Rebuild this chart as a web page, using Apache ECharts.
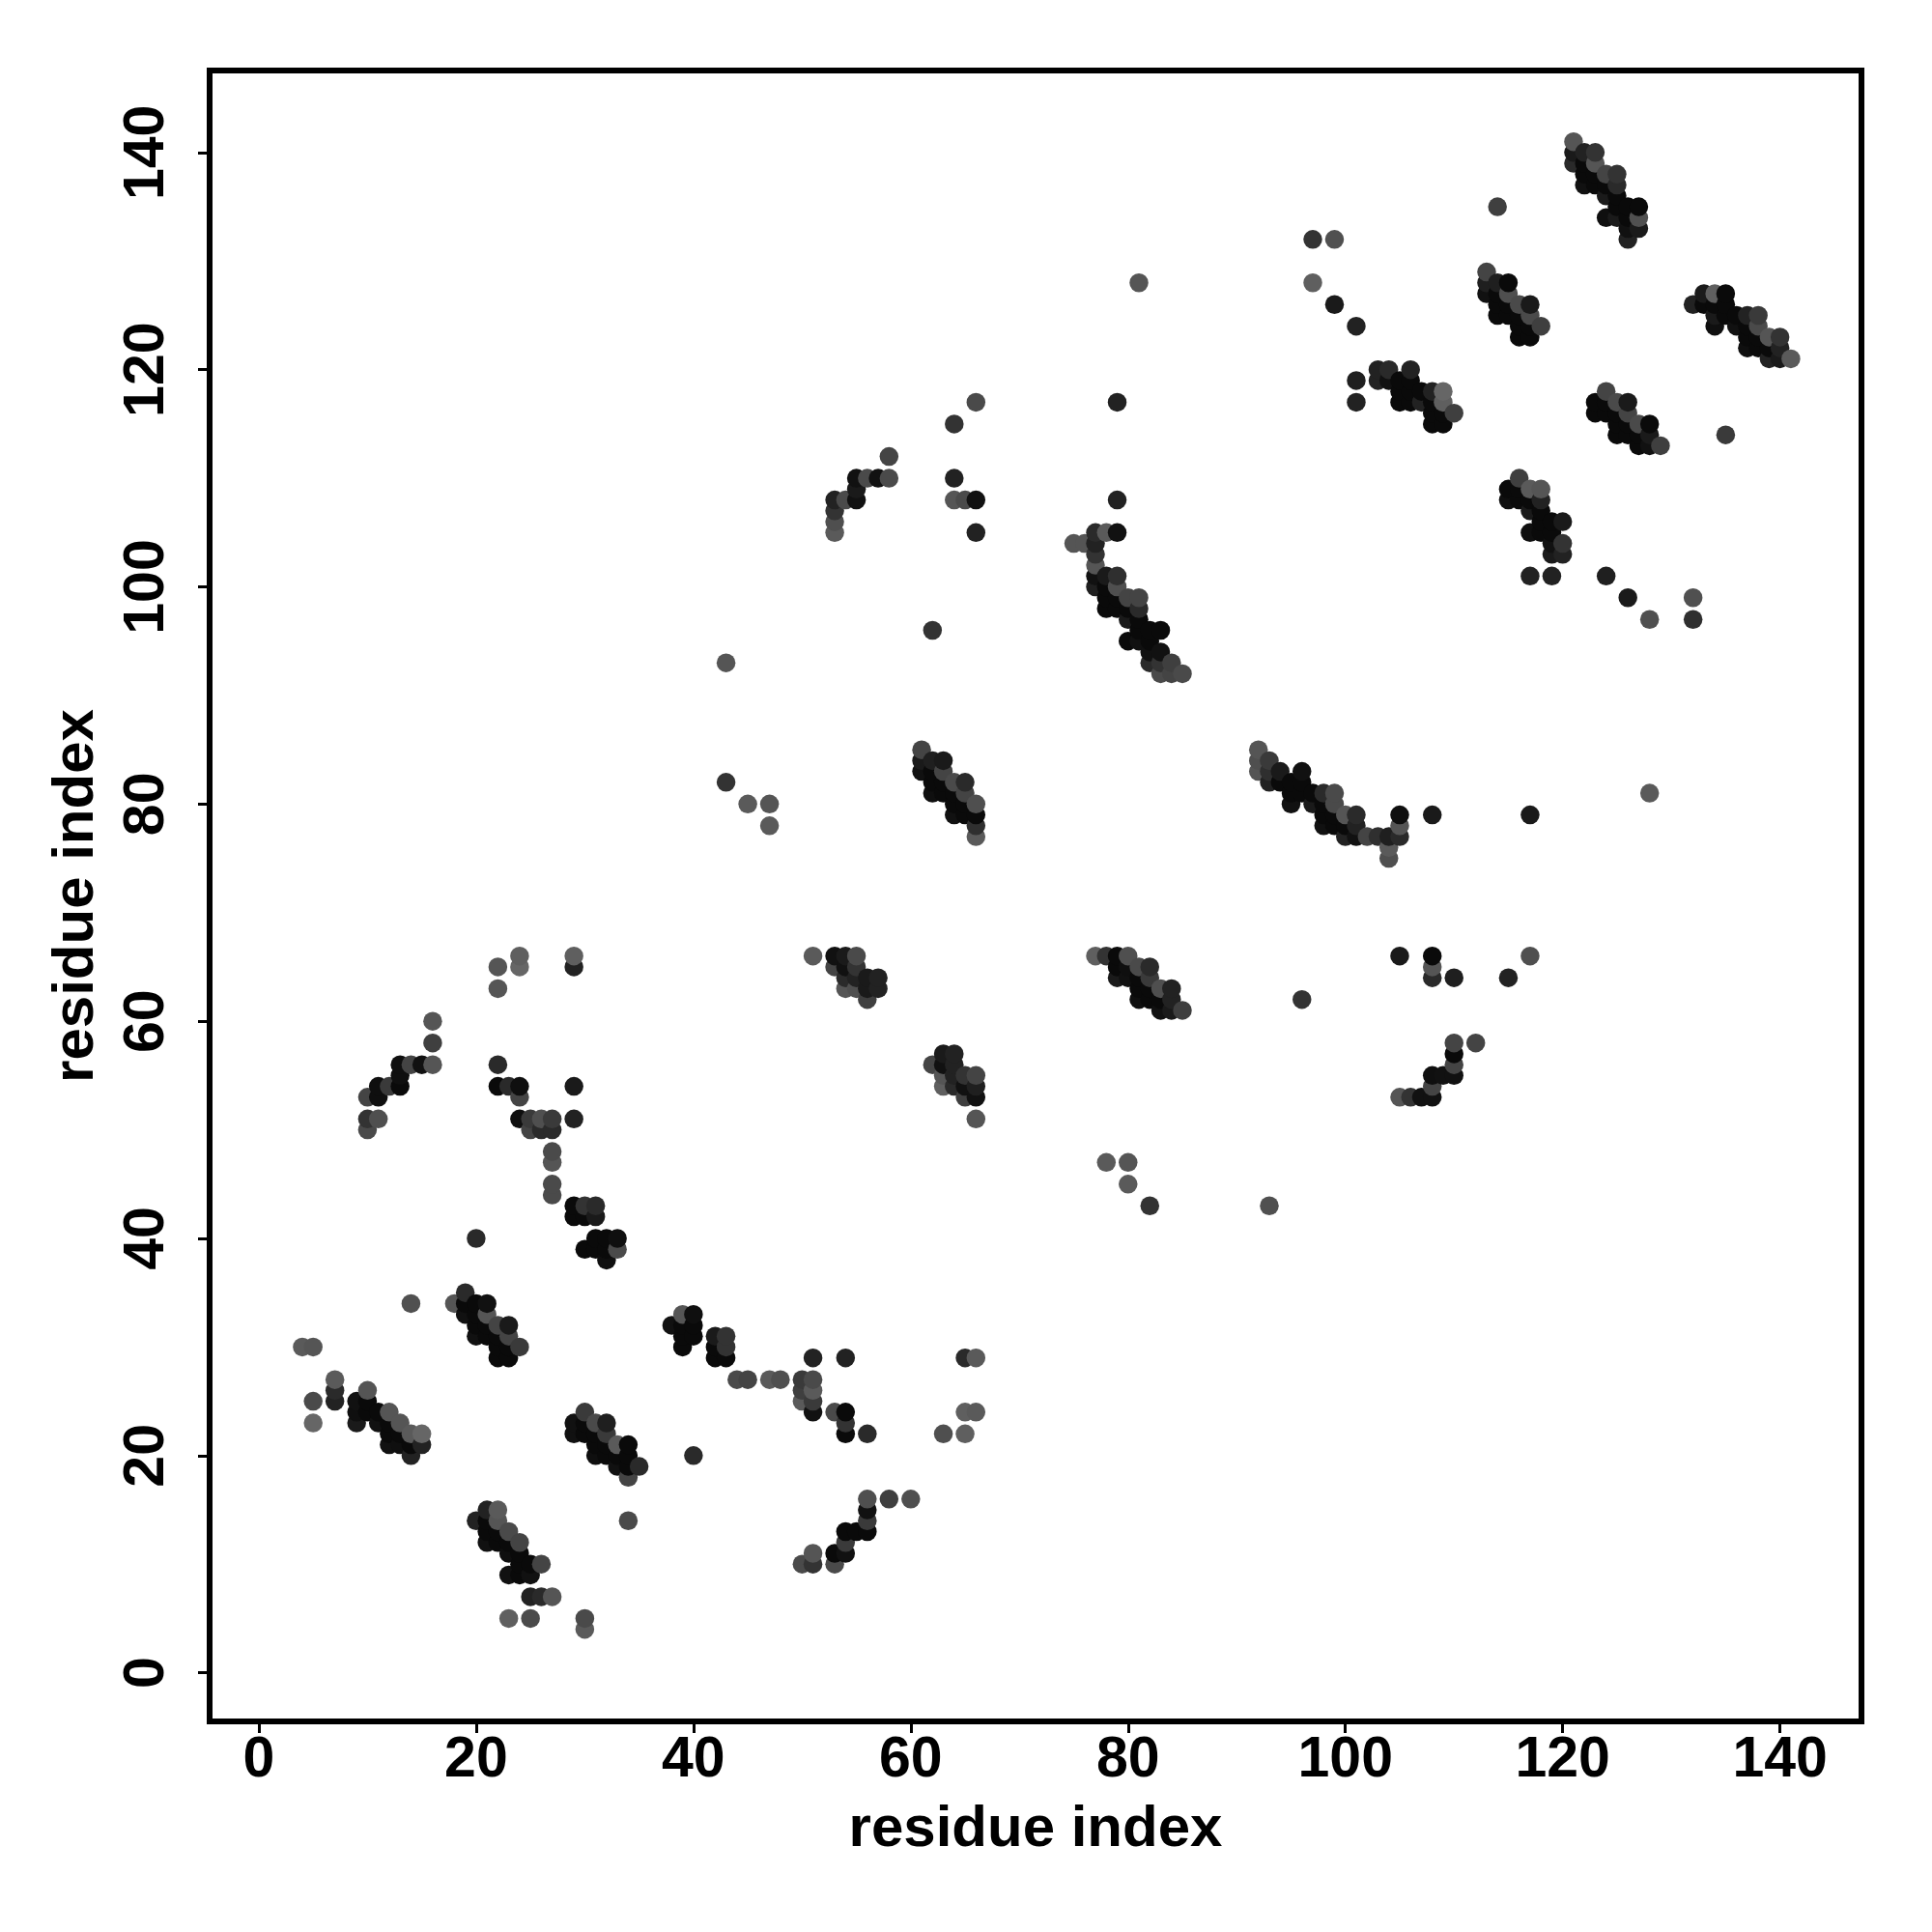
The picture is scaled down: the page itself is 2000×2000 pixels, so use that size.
<!DOCTYPE html>
<html>
<head>
<meta charset="utf-8">
<style>html,body{margin:0;padding:0;background:#fff}#c{width:2000px;height:2000px}</style>
<script src="https://cdn.jsdelivr.net/npm/echarts@6/dist/echarts.min.js"></script>
</head>
<body>
<div id="c"></div>
<script>
// each point: [residue i, residue j, gray level]
const tickValues = [0, 20, 40, 60, 80, 100, 120, 140];
const axisTitle = 'residue index';
const bottomLeft = [[4,30,0x5a],[5,30,0x55],[14,34,0x50],[7,27,0x5a],[7,26,0x2a],[7,25,0x22],[5,25,0x4a],[5,23,0x66],
 [10,26,0x55],[9,25,0x11],[9,24,0x0f],[9,23,0x1a],[10,25,0x0a],[10,24,0x0a],[11,24,0x0a],[11,23,0x11],[12,24,0x55],[13,23,0x55],[14,22,0x5a],[15,22,0x66],[12,23,0x0a],[12,22,0x0a],[12,21,0x11],[13,22,0x0a],[13,21,0x0f],[14,21,0x0a],[15,21,0x22],[14,20,0x22]];
const clusterB = [[18,34,0x55],[19,35,0x2a],[19,34,0x0a],[19,33,0x11],[20,34,0x0a],[21,34,0x11],[20,33,0x0a],[21,33,0x55],[20,32,0x0a],[20,31,0x11],[21,32,0x0a],[21,31,0x0a],[22,32,0x44],[23,32,0x1a],[22,31,0x0a],[23,31,0x44],[22,30,0x0a],[23,30,0x0a],[24,30,0x3a],[22,29,0x0a],[23,29,0x0a]];
const clusterC = [[20,14,0x22],[21,15,0x22],[22,15,0x5a],[22,14,0x55],[21,14,0x0a],[21,13,0x0a],[21,12,0x11],[22,13,0x0a],[22,12,0x0a],[23,13,0x4a],[24,12,0x44],[23,12,0x0a],[23,11,0x0f],[24,11,0x0a],[24,10,0x0a],[26,10,0x44],[25,10,0x0a],[23,9,0x11],[24,9,0x0a],[25,9,0x11],[25,7,0x22],[26,7,0x2a],[27,7,0x55],[23,5,0x5f],[25,5,0x4a],[30,5,0x4a],[30,4,0x5a]];
const clusterD = [[30,24,0x3a],[29,23,0x11],[29,22,0x11],[30,23,0x0a],[30,22,0x0a],[31,23,0x4a],[32,23,0x1f],[32,22,0x3a],[31,22,0x0a],[31,21,0x0a],[31,20,0x0f],[32,21,0x0a],[32,20,0x0a],[33,21,0x5a],[34,21,0x0a],[33,20,0x0a],[34,20,0x0a],[33,19,0x11],[34,19,0x0a],[35,19,0x2a],[34,18,0x44],[40,20,0x2a],[34,14,0x4a]];
const lowerMiddle = [[39,33,0x55],[40,33,0x0f],[38,32,0x11],[39,32,0x0a],[40,32,0x0a],[39,31,0x0a],[40,31,0x0a],[39,30,0x0a],[42,31,0x1a],[43,31,0x33],[42,30,0x0a],[43,30,0x33],[42,29,0x0a],[43,29,0x0a],[44,27,0x4a],[45,27,0x44],[47,27,0x5a],[48,27,0x4f],[50,27,0x3a],[51,27,0x4a],[50,26,0x3f],[51,26,0x5a],[50,25,0x5a],[51,25,0x3a],[51,24,0x11],[51,29,0x22],[54,29,0x22],[53,24,0x4a],[54,24,0x0a],[54,23,0x33],[54,22,0x0a],[56,22,0x2a],[65,29,0x2a],[66,29,0x5a],[65,24,0x5f],[66,24,0x5a],[63,22,0x4f],[65,22,0x5f]];
const parallelLow = [[56,16,0x4f],[58,16,0x3f],[60,16,0x4f],[56,15,0x11],[56,14,0x3a],[56,13,0x0a],[55,13,0x0a],[54,13,0x0a],[54,12,0x3a],[54,11,0x11],[53,11,0x0a],[53,10,0x4a],[51,11,0x55],[51,10,0x33],[50,10,0x4a]];
const upperLeft = [[22,65,0x55],[24,66,0x5f],[24,65,0x66],[22,63,0x55],[29,66,0x5f],[29,65,0x22],[16,60,0x55],[16,58,0x3f],[16,56,0x55],[15,56,0x11],[14,56,0x44],[13,56,0x0f],[13,55,0x0f],[13,54,0x0a],[12,54,0x3a],[11,54,0x0f],[11,53,0x0f],[10,53,0x44],[10,51,0x33],[11,51,0x4f],[10,50,0x4a],[22,56,0x2a],[22,54,0x0a],[23,54,0x2a],[24,54,0x0f],[24,53,0x44],[29,54,0x1a],[29,51,0x22],[24,51,0x0f],[25,51,0x3a],[25,50,0x44],[26,51,0x4f],[26,50,0x2a],[27,51,0x3a],[27,50,0x2a],[27,48,0x4a],[27,47,0x55],[27,45,0x4a],[27,44,0x4a],[29,43,0x0a],[30,43,0x33],[31,43,0x2a],[29,42,0x0a],[30,42,0x0a],[31,42,0x1a],[20,40,0x2a],[31,40,0x0a],[32,40,0x0a],[33,40,0x0f],[30,39,0x0a],[31,39,0x0a],[32,39,0x0a],[33,39,0x4a],[32,38,0x0f]];
const clusterE = [[51,66,0x5a],[53,66,0x11],[54,66,0x1a],[55,66,0x4a],[53,65,0x44],[54,65,0x11],[55,65,0x33],[54,64,0x2a],[55,64,0x22],[56,64,0x1a],[57,64,0x22],[56,63,0x1a],[57,63,0x22],[54,63,0x55],[55,63,0x4f],[56,62,0x3f]];
const clusterF = [[63,57,0x1a],[64,57,0x22],[62,56,0x44],[63,56,0x11],[64,56,0x22],[63,55,0x55],[64,55,0x22],[65,55,0x33],[66,55,0x44],[63,54,0x5f],[64,54,0x2a],[65,54,0x11],[66,54,0x1f],[65,53,0x3f],[66,53,0x11],[66,51,0x55]];
const clusterG = [[77,66,0x5f],[78,66,0x33],[79,66,0x0a],[80,66,0x4f],[79,65,0x0a],[80,65,0x0f],[81,65,0x4a],[82,65,0x2a],[79,64,0x1a],[80,64,0x11],[81,64,0x0a],[82,64,0x3a],[81,63,0x0a],[82,63,0x0a],[83,63,0x4f],[84,63,0x22],[81,62,0x0f],[82,62,0x0a],[83,62,0x0a],[84,62,0x22],[83,61,0x11],[84,61,0x1a],[85,61,0x3f],[96,62,0x33]];
const clusterH = [[105,66,0x1a],[108,66,0x0a],[108,65,0x55],[108,64,0x2a],[110,64,0x1f],[115,64,0x22],[117,66,0x4f],[110,58,0x44],[112,58,0x44],[110,57,0x0a],[110,56,0x44],[110,55,0x11],[109,55,0x11],[108,55,0x0f],[108,54,0x44],[108,53,0x11],[107,53,0x11],[106,53,0x33],[105,53,0x55],[78,47,0x5a],[80,47,0x55],[80,45,0x5a],[82,43,0x33],[93,43,0x50]];
const clusterI = [[43,93,0x55],[43,82,0x33],[45,80,0x5a],[47,80,0x55],[47,78,0x5a],[61,85,0x44],[61,84,0x1a],[61,83,0x11],[62,84,0x1f],[63,84,0x1a],[62,83,0x0a],[63,83,0x44],[62,82,0x0a],[62,81,0x0f],[63,82,0x0a],[63,81,0x0a],[64,82,0x4a],[65,82,0x2a],[65,81,0x44],[64,81,0x0a],[64,80,0x0a],[64,79,0x11],[65,80,0x0a],[65,79,0x0a],[66,80,0x4f],[66,79,0x0a],[66,78,0x2f],[66,77,0x5a]];
const clusterJ = [[92,85,0x55],[92,84,0x4f],[92,83,0x55],[93,84,0x3a],[93,83,0x2f],[93,82,0x22],[94,83,0x1a],[94,82,0x0a],[96,83,0x11],[95,82,0x0a],[96,82,0x0a],[95,81,0x0a],[96,81,0x0a],[95,80,0x11],[97,81,0x0a],[97,80,0x1a],[98,81,0x2a],[99,81,0x4a],[99,80,0x4a],[98,80,0x0a],[98,79,0x0a],[98,78,0x11],[99,79,0x0a],[99,78,0x0a],[100,79,0x55],[101,79,0x2a],[101,78,0x22],[100,78,0x0a],[100,77,0x22],[101,77,0x11],[102,77,0x44],[103,77,0x2f],[104,77,0x1f],[105,77,0x2a],[105,78,0x55],[105,79,0x0f],[104,76,0x5a],[104,75,0x4f],[108,79,0x1a],[117,79,0x1a],[128,81,0x5a]];
const clusterK = [[75,104,0x55],[76,104,0x55],[77,105,0x2a],[78,105,0x5a],[79,105,0x11],[77,104,0x22],[77,103,0x33],[77,102,0x55],[77,101,0x11],[77,100,0x1f],[78,101,0x1a],[79,101,0x2f],[78,100,0x0a],[79,100,0x4f],[78,99,0x0a],[78,98,0x0a],[79,99,0x0a],[79,98,0x0a],[80,99,0x44],[81,99,0x44],[81,98,0x2a],[80,98,0x0a],[80,97,0x1a],[81,97,0x0a],[81,96,0x0a],[82,96,0x0a],[83,96,0x0a],[80,95,0x0a],[81,95,0x11],[82,95,0x0a],[82,94,0x11],[83,94,0x11],[82,93,0x2a],[83,93,0x33],[84,93,0x3f],[83,92,0x4a],[84,92,0x44],[85,92,0x4a]];
const clusterL = [[62,96,0x33],[79,117,0x22],[64,115,0x33],[66,117,0x4a],[64,110,0x22],[64,108,0x55],[65,108,0x4a],[66,108,0x11],[66,105,0x22],[79,108,0x22],[81,128,0x55],[53,108,0x22],[53,107,0x33],[53,106,0x4f],[53,105,0x5a],[54,108,0x4a],[55,108,0x11],[55,109,0x1a],[55,110,0x11],[56,110,0x4a],[57,110,0x11],[58,110,0x4a],[58,112,0x44]];
const clusterM = [[97,132,0x33],[99,132,0x50],[97,128,0x5f],[99,126,0x1a],[101,124,0x22],[101,119,0x1f],[101,117,0x22],[103,120,0x22],[104,120,0x2a],[106,120,0x22],[103,119,0x22],[104,119,0x11],[105,119,0x0a],[106,119,0x0a],[105,118,0x0a],[106,118,0x0a],[107,118,0x0a],[108,118,0x22],[109,118,0x66],[105,117,0x0a],[106,117,0x0a],[107,117,0x22],[108,117,0x0a],[109,117,0x5f],[108,116,0x0a],[109,116,0x0a],[110,116,0x3f],[108,115,0x0a],[109,115,0x0a]];
const clusterN = [[113,129,0x44],[113,128,0x1f],[113,127,0x11],[114,128,0x1f],[115,128,0x0a],[114,127,0x0a],[115,127,0x4f],[114,126,0x0a],[114,125,0x0a],[115,126,0x0a],[115,125,0x0a],[116,126,0x4a],[117,126,0x1a],[117,125,0x4a],[116,125,0x0a],[116,124,0x0a],[116,123,0x0a],[117,124,0x0a],[117,123,0x0a],[118,124,0x3f],[114,135,0x3f]];
const clusterO = [[121,141,0x55],[121,140,0x1a],[121,139,0x2a],[122,140,0x22],[123,140,0x33],[122,139,0x0a],[123,139,0x55],[122,138,0x0a],[122,137,0x11],[123,138,0x0a],[123,137,0x0a],[124,138,0x44],[125,138,0x33],[124,137,0x0a],[125,137,0x2a],[124,136,0x1a],[125,136,0x0a],[125,135,0x0a],[126,135,0x0a],[127,135,0x0a],[124,134,0x0f],[125,134,0x1a],[126,134,0x0a],[127,134,0x50],[126,133,0x11],[127,133,0x1a],[126,132,0x22]];
const clusterP = [[132,126,0x22],[133,127,0x1a],[134,127,0x5f],[135,127,0x0a],[133,126,0x0a],[134,126,0x0a],[135,126,0x0a],[134,125,0x1a],[135,125,0x0a],[134,124,0x0f],[136,125,0x0a],[136,124,0x11],[137,125,0x22],[138,125,0x3a],[137,124,0x0a],[138,124,0x4a],[137,123,0x0a],[137,122,0x0f],[138,123,0x0a],[138,122,0x0a],[139,123,0x55],[140,123,0x33],[140,122,0x22],[139,122,0x0a],[139,121,0x22],[140,121,0x1a],[141,121,0x5a]];
const clusterQ = [[116,110,0x3f],[115,109,0x0a],[115,108,0x0f],[116,109,0x0a],[116,108,0x0a],[117,109,0x5a],[118,109,0x55],[118,108,0x22],[117,108,0x0a],[117,107,0x1a],[118,107,0x0a],[118,106,0x0a],[119,106,0x0a],[120,106,0x1a],[117,105,0x0f],[118,105,0x0a],[119,105,0x0a],[119,104,0x11],[120,104,0x33],[119,103,0x1a],[120,103,0x22],[117,101,0x22],[119,101,0x22],[124,101,0x1f],[126,99,0x1a],[128,97,0x50],[132,99,0x50],[132,97,0x2f],[135,114,0x3a]];
const clusterR = [[124,118,0x44],[123,117,0x0a],[123,116,0x0a],[124,117,0x0a],[124,116,0x0a],[125,117,0x4a],[126,117,0x1a],[126,116,0x44],[125,116,0x0a],[125,115,0x0a],[125,114,0x0a],[126,115,0x0a],[126,114,0x0a],[127,115,0x4a],[128,115,0x0a],[128,114,0x1a],[127,114,0x0a],[127,113,0x0a],[128,113,0x11],[129,113,0x3f]];

const contacts = [].concat(bottomLeft, clusterB, clusterC, clusterD, lowerMiddle, parallelLow, upperLeft,
  clusterE, clusterF, clusterG, clusterH, clusterI, clusterJ, clusterK, clusterL, clusterM, clusterN, clusterO, clusterP, clusterQ, clusterR)
  .sort((a, b) => a[0] - b[0] || a[1] - b[1]);

const FONT = '"Liberation Sans", Arial, sans-serif';
function axis(extra) {
  return Object.assign({
    type: 'value',
    min: -4.53,
    max: 147.5,
    name: axisTitle,
    nameLocation: 'middle',
    nameTextStyle: { fontFamily: FONT, fontWeight: 'bold', fontSize: 60, color: '#000' },
    splitLine: { show: false },
    axisLine: { show: false, onZero: false },
    axisTick: { show: true, customValues: tickValues, length: 12, inside: false, lineStyle: { color: '#000', width: 3 } },
  }, extra);
}
const chart = echarts.init(document.getElementById('c'), null, { renderer: 'canvas' });
chart.setOption({
  animation: false,
  backgroundColor: '#fff',
  grid: { left: 217, top: 73, width: 1710, height: 1709, show: true, borderColor: '#000', borderWidth: 6, backgroundColor: 'transparent', containLabel: false },
  xAxis: axis({
    nameGap: 82,
    axisLabel: { customValues: tickValues, fontFamily: FONT, fontWeight: 'bold', fontSize: 59, color: '#000', margin: 11, hideOverlap: false }
  }),
  yAxis: axis({
    min: -4.48,
    max: 147.55,
    nameGap: 108,
    axisLabel: { customValues: tickValues, fontFamily: FONT, fontWeight: 'bold', fontSize: 59, color: '#000', rotate: 90, margin: 35, hideOverlap: false }
  }),
  series: [{
    type: 'scatter',
    symbol: 'circle',
    symbolSize: 19.5,
    silent: true,
    itemStyle: { opacity: 1 },
    data: contacts.map(c => ({
      value: [c[0], c[1]],
      itemStyle: { color: `rgb(${c[2]},${c[2]},${c[2]})`, opacity: 1 }
    }))
  }]
});
</script>
</body>
</html>
